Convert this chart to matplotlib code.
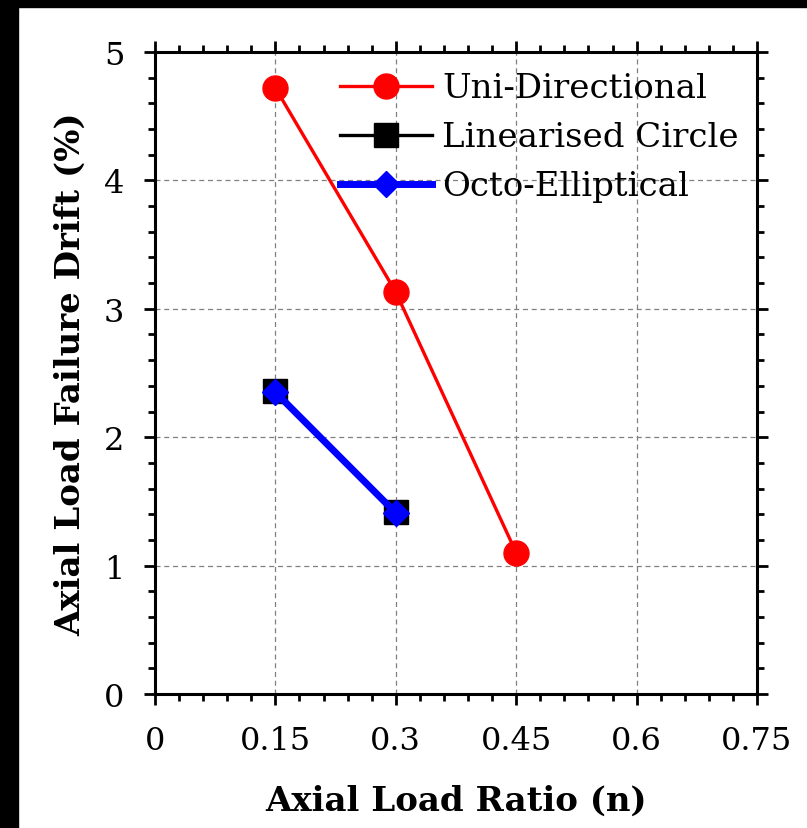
import matplotlib
matplotlib.use("Agg")
import matplotlib.pyplot as plt
from matplotlib.ticker import MultipleLocator
from matplotlib.patches import Rectangle

# Data
x_uni = [0.15, 0.30, 0.45]
y_uni = [4.72, 3.13, 1.10]
x_lin = [0.15, 0.30]
y_lin = [2.36, 1.42]
x_oct = [0.15, 0.30]
y_oct = [2.35, 1.41]
labels = ["Uni-Directional", "Linearised Circle", "Octo-Elliptical"]
xticks = [0, 0.15, 0.3, 0.45, 0.6, 0.75]
xticklabels = ["0", "0.15", "0.3", "0.45", "0.6", "0.75"]
yticks = [0, 1, 2, 3, 4, 5]

plt.rcParams['font.family'] = ['DejaVu Serif']

fig = plt.figure(figsize=(8.07, 8.29), dpi=100)
fig.patch.set_facecolor('white')
# black frame strips of the screenshot
fig.patches.append(Rectangle((0, 0), 18/807, 1, transform=fig.transFigure, color='black', zorder=-10))
fig.patches.append(Rectangle((0, 1 - 8/829), 1, 8/829, transform=fig.transFigure, color='black', zorder=-10))

ax = fig.add_axes([155/807, 1 - 695/829, (757-155)/807, (695-53)/829])

ax.plot(x_uni, y_uni, color='red', lw=2.4, marker='o', ms=18, mfc='red', mec='red', label=labels[0], zorder=3)
ax.plot(x_lin, y_lin, color='black', lw=2.4, marker='s', ms=17, mfc='black', mec='black', label=labels[1], zorder=3)
ax.plot(x_oct, y_oct, color='blue', lw=5, marker='D', ms=13, mfc='blue', mec='blue', label=labels[2], zorder=4)

ax.set_xlim(0, 0.75)
ax.set_ylim(0, 5)
ax.set_xticks(xticks)
ax.set_xticklabels(xticklabels)
ax.set_yticks(yticks)
ax.xaxis.set_minor_locator(MultipleLocator(0.03))
ax.yaxis.set_minor_locator(MultipleLocator(0.2))

ax.grid(True, which='major', color='#808080', linestyle=(0, (4, 3)), linewidth=0.9)
ax.set_axisbelow(True)

for s in ax.spines.values():
    s.set_linewidth(2.2)
ax.tick_params(which='both', direction='out', top=True, right=True, width=2.0, labelsize=23, colors='black')
ax.tick_params(which='major', length=8, pad=14)
ax.tick_params(which='minor', length=5)

ax.set_xlabel("Axial Load Ratio (n)", fontsize=24.5, fontweight='bold', labelpad=20)
ax.set_ylabel("Axial Load Failure Drift (%)", fontsize=24.5, fontweight='bold', labelpad=12)

ax.legend(loc='upper right', bbox_to_anchor=(1.004, 1.0), frameon=False, fontsize=24.5,
          handlelength=2.7, handletextpad=0.3, labelspacing=0.5, borderaxespad=0.2)

fig.savefig("out.png", dpi=100)
